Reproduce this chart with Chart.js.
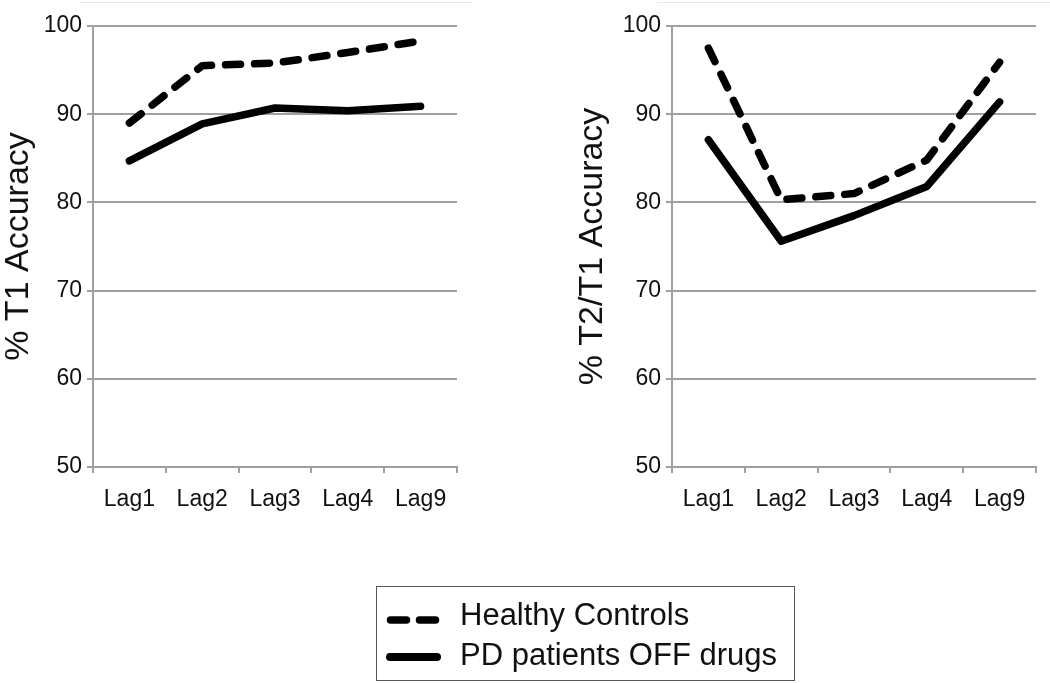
<!DOCTYPE html>
<html>
<head>
<meta charset="utf-8">
<script src="https://cdn.jsdelivr.net/npm/chart.js@4/dist/chart.umd.min.js"></script>
<style>
  html, body { margin: 0; padding: 0; background: #fff; }
  body { width: 1050px; height: 683px; position: relative; overflow: hidden; font-family: "Liberation Sans", Arial, sans-serif; }
  canvas { position: absolute; }
  #c1 { left: 0; top: 0; }
  #c2 { left: 560px; top: 0; }
  .topline { position: absolute; top: 2px; height: 0; border-top: 1px solid #e6e6e6; }
  #legend { position: absolute; left: 376px; top: 586px; width: 419px; height: 95px; border: 1.5px solid #555; box-sizing: border-box; }
  .ltext { position: absolute; left: 460px; font-size: 31px; line-height: 31px; color: #111; white-space: nowrap; }
  svg.lsym { position: absolute; left: 0; top: 0; }
</style>
</head>
<body>
<div class="topline" style="left:80px;width:392px"></div>
<div class="topline" style="left:657px;width:393px"></div>
<canvas id="c1" width="480" height="540"></canvas>
<canvas id="c2" width="490" height="540"></canvas>
<div id="legend"></div>
<svg class="lsym" width="1050" height="683">
  <line x1="390.5" y1="620" x2="436.5" y2="620" stroke="#000" stroke-width="7.5" stroke-linecap="round" stroke-dasharray="16 13"/>
  <line x1="390" y1="657" x2="437" y2="657" stroke="#000" stroke-width="8" stroke-linecap="round"/>
</svg>
<div class="ltext" style="top:599px">Healthy Controls</div>
<div class="ltext" style="top:639px">PD patients OFF drugs</div>
<script>
const categories = ['Lag1', 'Lag2', 'Lag3', 'Lag4', 'Lag9'];
const seriesNames = ['Healthy Controls', 'PD patients OFF drugs'];
const t1Healthy = [89.0, 95.5, 95.8, 97.0, 98.3];
const t1PD = [84.7, 88.9, 90.7, 90.4, 90.9];
const t2Healthy = [97.5, 80.3, 81.0, 84.8, 95.9];
const t2PD = [87.1, 75.6, 78.5, 81.8, 91.4];
const yTicks = [50, 60, 70, 80, 90, 100];

const FONT = '"Liberation Sans", Arial, sans-serif';
const GRID = '#a0a0a0';

function makeChart(id, title, healthy, pd, padLeft, yWidth, padRight) {
  const ctx = document.getElementById(id);
  const H = ctx.height;
  return new Chart(ctx, {
    type: 'line',
    data: {
      labels: categories,
      datasets: [
        { label: seriesNames[0], data: healthy, borderColor: '#000', backgroundColor: '#000',
          borderWidth: 7.5, borderDash: [15, 14], borderCapStyle: 'round', borderJoinStyle: 'round',
          pointRadius: 0, tension: 0, fill: false },
        { label: seriesNames[1], data: pd, borderColor: '#000', backgroundColor: '#000',
          borderWidth: 7.5, borderCapStyle: 'round', borderJoinStyle: 'round',
          pointRadius: 0, tension: 0, fill: false }
      ]
    },
    options: {
      responsive: false,
      devicePixelRatio: 1,
      animation: false,
      layout: { padding: { left: padLeft, right: padRight, top: 26, bottom: 0 } },
      plugins: { legend: { display: false }, tooltip: { enabled: false } },
      scales: {
        x: {
          type: 'category',
          offset: true,
          grid: { display: true, drawOnChartArea: false, drawTicks: true, tickLength: 6, color: GRID, lineWidth: 2, offset: true },
          border: { display: true, color: GRID, width: 2 },
          ticks: { color: '#111', font: { family: FONT, size: 23 }, padding: 13, maxRotation: 0 },
          afterFit: s => { s.height = H - 467; }
        },
        y: {
          min: 50, max: 100,
          afterBuildTicks: s => { s.ticks = yTicks.map(v => ({ value: v })); },
          grid: { display: true, drawTicks: true, tickLength: 6, color: GRID, lineWidth: 2 },
          border: { display: true, color: GRID, width: 2 },
          ticks: { color: '#111', font: { family: FONT, size: 23 }, padding: 5 },
          title: { display: true, text: title, color: '#111', font: { family: FONT, size: 34, lineHeight: 1.05 }, padding: { top: 1, bottom: 0 } },
          afterFit: s => { s.width = yWidth; }
        }
      }
    }
  });
}

makeChart('c1', '% T1 Accuracy', t1Healthy, t1PD, 0, 93, 23);
makeChart('c2', '% T2/T1 Accuracy', t2Healthy, t2PD, 14, 98, 14);
</script>
</body>
</html>
